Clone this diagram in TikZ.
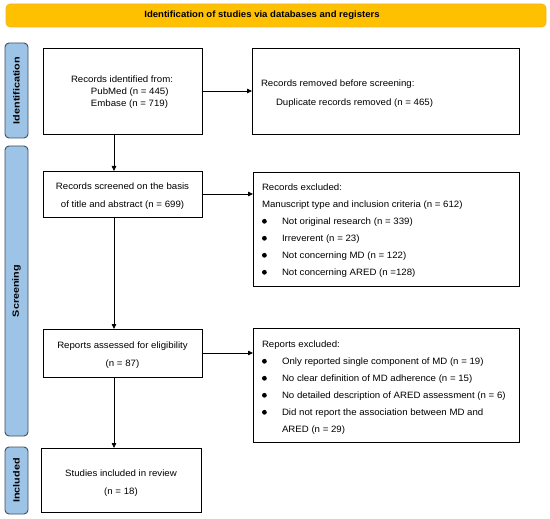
\documentclass[tikz,border=0pt]{standalone}
\usepackage{fontspec}
\setmainfont{Liberation Sans}[FakeStretch=1.05]
\newfontfamily\sidefont{Liberation Sans}[FakeStretch=1.2]
\usetikzlibrary{arrows.meta}
\definecolor{bannerfill}{RGB}{255,192,0}
\definecolor{bannerline}{RGB}{240,180,40}
\definecolor{sidefill}{RGB}{157,195,230}
\definecolor{sideline}{RGB}{60,80,100}
\newcommand{\blt}{\makebox[20pt][l]{\raisebox{3.6pt}{\tikz[baseline=0pt,x=1pt,y=1pt]\fill[black] (0,0) circle (2.4pt);}}}
\begin{document}
\begin{tikzpicture}[x=1pt,y=-1pt,
  every node/.style={inner sep=0pt, outer sep=0pt},
  flowbox/.style={draw=black, line width=0.8pt, fill=white},
  sidebar/.style={draw=sideline, line width=0.9pt, fill=sidefill, rounded corners=4pt},
  sidelabel/.style={rotate=90, font=\sidefont\fontsize{9}{10}\selectfont\bfseries},
  txt/.style={font=\fontsize{9.2}{17}\selectfont, align=left, anchor=west},
  ctxt/.style={font=\fontsize{9.2}{17.5}\selectfont, align=center},
  arr/.style={-{Triangle[length=5pt,width=4.5pt]}, line width=0.8pt}
]
\useasboundingbox (0,0) rectangle (550,519);
\fill[white] (0,0) rectangle (550,519);
% banner
\draw[draw=bannerline, line width=0.6pt, fill=bannerfill, rounded corners=4pt] (6,4) rectangle (546,27);
\node[font=\fontsize{9.1}{10}\selectfont\bfseries] (banner) at (262,15.5) {Identification of studies via databases and registers};
% side bars
\draw[sidebar] (5,43) rectangle (28,138);
\node[sidelabel] (lid) at (16.5,90.5) {Identification};
\draw[sidebar] (5,146) rectangle (28,436);
\node[sidelabel] (lsc) at (16.5,291) {Screening};
\draw[sidebar] (5,447) rectangle (28,514);
\node[sidelabel] (lin) at (16.5,480.5) {Included};
% boxes
\node[flowbox, minimum width=159pt, minimum height=86pt] (b1) at (122.5,91) {};
\node[txt, font=\fontsize{9.2}{11.7}\selectfont] (t1) at (71,92) {Records identified from:\\\hspace{20pt}PubMed (n = 445)\\\hspace{20pt}Embase (n = 719)};
\node[flowbox, minimum width=267pt, minimum height=86pt] (b2) at (385.5,91) {};
\node[txt, font=\fontsize{9.2}{19}\selectfont] (t2) at (261,94) {Records removed before screening:\\\hspace{15pt}Duplicate records removed (n = 465)};

\node[flowbox, minimum width=159pt, minimum height=46pt] (b3) at (122.5,194) {};
\node[ctxt] (t3) at (122.5,196) {Records screened on the basis\\of title and abstract (n = 699)};
\node[flowbox, minimum width=266pt, minimum height=114pt] (b4) at (386,229) {};
\node[txt] (t4) at (262,231) {Records excluded:\\Manuscript type and inclusion criteria (n = 612)\\
\blt Not original research (n = 339)\\
\blt Irreverent (n = 23)\\
\blt Not concerning MD (n = 122)\\
\blt Not concerning ARED (n =128)};

\node[flowbox, minimum width=159pt, minimum height=48pt] (b5) at (122.5,353) {};
\node[ctxt] (t5) at (122.5,355) {Reports assessed for eligibility\\(n = 87)};
\node[flowbox, minimum width=266pt, minimum height=114pt] (b6) at (386,385) {};
\node[txt] (t6) at (262,388) {Reports excluded:\\
\blt Only reported single component of MD (n = 19)\\
\blt No clear definition of MD adherence (n = 15)\\
\blt No detailed description of ARED assessment (n = 6)\\
\blt Did not report the association between MD and\\
\hspace{20pt}ARED (n = 29)};

\node[flowbox, minimum width=160pt, minimum height=64pt] (b7) at (121,480) {};
\node[ctxt] (t7) at (121,483) {Studies included in review\\(n = 18)};

% arrows
\draw[arr] (b1.east) -- (b2.west);
\draw[arr] (b3.east) -- (b4.west |- b3.east);
\draw[arr] (b5.east) -- (b6.west |- b5.east);
\draw[arr] (b1.south -| 114,0) -- (b3.north -| 114,0);
\draw[arr] (b3.south -| 114,0) -- (b5.north -| 114,0);
\draw[arr] (b5.south -| 114,0) -- (b7.north -| 114,0);
\end{tikzpicture}
\end{document}
